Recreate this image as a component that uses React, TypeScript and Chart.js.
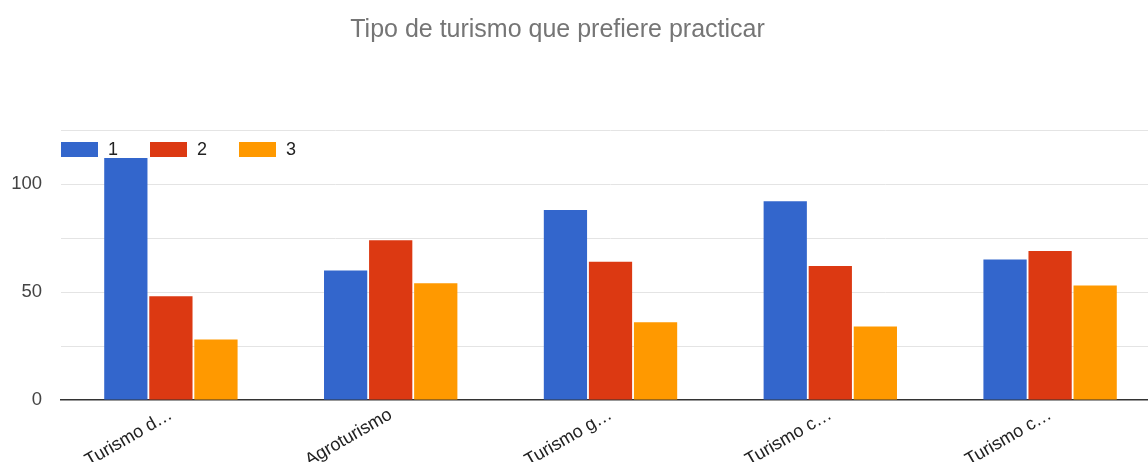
import React, { useEffect, useRef } from "react";
import { Chart, registerables } from "chart.js";

Chart.register(...registerables);

const titleText = "Tipo de turismo que prefiere practicar";
const categories = ["Turismo d…", "Agroturismo", "Turismo g…", "Turismo c…", "Turismo c…"];
const seriesNames = ["1", "2", "3"];
const series1 = [112, 60, 88, 92, 65];
const series2 = [48, 74, 64, 62, 69];
const series3 = [28, 54, 36, 34, 53];
const colors = ["#3366cc", "#dc3912", "#ff9900"];
const yMax = 125;
const yStep = 25;
const yLabelStep = 50;

const FONT = "Arial, 'Liberation Sans', sans-serif";

const titlePlugin = {
  id: "customTitle",
  afterDraw(chart: any) {
    const ctx = chart.ctx;
    ctx.save();
    ctx.font = `25px ${FONT}`;
    ctx.fillStyle = "#757575";
    ctx.textAlign = "center";
    ctx.textBaseline = "alphabetic";
    ctx.fillText(titleText, 557.5, 37);
    ctx.restore();
  },
};

const legendPlugin = {
  id: "customLegend",
  afterDraw(chart: any) {
    const ctx = chart.ctx;
    const area = chart.chartArea;
    ctx.save();
    ctx.font = `18px ${FONT}`;
    ctx.textBaseline = "middle";
    ctx.textAlign = "left";
    let x = area.left;
    const yTop = 142;
    const boxW = 37;
    const boxH = 15;
    chart.data.datasets.forEach((ds: any) => {
      ctx.fillStyle = ds.backgroundColor;
      ctx.fillRect(x, yTop, boxW, boxH);
      ctx.fillStyle = "#222222";
      ctx.fillText(ds.label, x + boxW + 10, yTop + boxH / 2 + 1);
      x += 89;
    });
    ctx.restore();
  },
};

export default function App() {
  const ref = useRef<HTMLCanvasElement | null>(null);

  useEffect(() => {
    if (!ref.current) return;
    const data = [series1, series2, series3];
    const chart = new Chart(ref.current, {
      type: "bar",
      data: {
        labels: categories,
        datasets: data.map((vals, i) => ({
          label: seriesNames[i],
          data: vals,
          backgroundColor: colors[i],
          borderWidth: 0,
          categoryPercentage: 0.615,
          barPercentage: 0.96,
        })),
      },
      options: {
        animation: false,
        responsive: true,
        maintainAspectRatio: false,
        layout: { padding: { top: 130, left: 0, right: 0, bottom: 0 } },
        plugins: {
          legend: { display: false },
          title: { display: false },
          tooltip: { enabled: false },
        },
        scales: {
          x: {
            grid: { display: false },
            border: { display: true, color: "#333333", width: 1.5 },
            ticks: {
              minRotation: 30,
              maxRotation: 30,
              autoSkip: false,
              color: "#222222",
              font: { family: FONT, size: 18 },
              padding: -4,
            },
            afterFit: (scale: any) => {
              scale.height = 62;
            },
          },
          y: {
            min: 0,
            max: yMax,
            border: { display: false },
            grid: {
              color: (c: any) => (c.tick && c.tick.value === 0 ? "rgba(0,0,0,0)" : "#e4e4e4"),
              drawTicks: false,
            },
            ticks: {
              stepSize: yStep,
              color: "#444444",
              font: { family: FONT, size: 18.5 },
              padding: 19,
              callback: (v: any) => (Number(v) % yLabelStep === 0 ? String(v) : ""),
            },
            afterFit: (scale: any) => {
              scale.width = 61;
            },
          },
        },
      },
      plugins: [titlePlugin, legendPlugin],
    });
    return () => chart.destroy();
  }, []);

  return (
    <div
      style={{
        position: "fixed",
        left: 0,
        top: 0,
        width: 1148,
        height: 462,
        overflow: "hidden",
        background: "#ffffff",
      }}
    >
      <div style={{ position: "relative", width: 1160, height: 462 }}>
        <canvas ref={ref} />
      </div>
    </div>
  );
}
